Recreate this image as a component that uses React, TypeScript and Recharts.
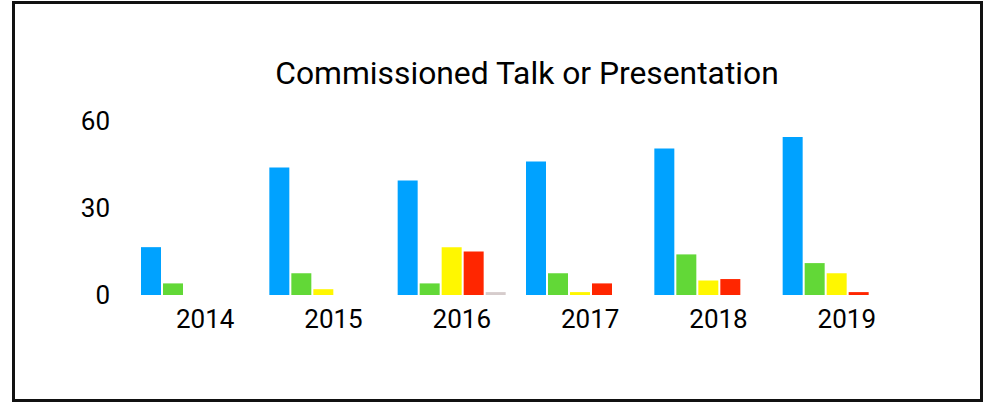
import React from "react";
import { BarChart, Bar, XAxis, YAxis } from "recharts";

const years = ["2014", "2015", "2016", "2017", "2018", "2019"];
const series1 = [16.5, 44, 39.5, 46, 50.5, 54.5];
const series2 = [4, 7.5, 4, 7.5, 14, 11];
const series3 = [0, 2, 16.5, 1, 5, 7.5];
const series4 = [0, 0, 15, 4, 5.5, 1];
const series5 = [0, 0, 1, 0, 0, 0];
const yTicks = [0, 30, 60];

const colors = ["#00a2ff", "#62d837", "#fff700", "#ff2600", "#d6cccc"];
const keys = ["s1", "s2", "s3", "s4", "s5"];

const FONT = "Roboto, 'Noto Sans', sans-serif";

export default function App() {
  const data = years.map((y, i) => ({
    year: y,
    s1: series1[i],
    s2: series2[i],
    s3: series3[i],
    s4: series4[i],
    s5: series5[i],
  }));

  return (
    <div style={{ position: "absolute", left: 0, top: 0, width: 990, height: 402, background: "#fff" }}>
      <div
        style={{
          position: "absolute",
          left: 12,
          top: 1,
          width: 971,
          height: 401,
          border: "3px solid #111",
          boxSizing: "border-box",
        }}
      />
      <svg style={{ position: "absolute", left: 0, top: 0 }} width={990} height={402}>
        <text x={527} y={84} textAnchor="middle" fontFamily={FONT} fontSize={31.8} fill="#000">
          Commissioned Talk or Presentation
        </text>
      </svg>
      <div style={{ position: "absolute", left: 0, top: 0 }}>
        <BarChart
          width={990}
          height={402}
          data={data}
          margin={{ top: 121, right: 89, bottom: 77, left: 0 }}
          barCategoryGap={10}
          barGap={2}
        >
          <XAxis
            dataKey="year"
            axisLine={false}
            tickLine={false}
            height={30}
            tickMargin={9}
            tick={{ fontFamily: FONT, fontSize: 26, fill: "#000", dx: 10 }}
            interval={0}
          />
          <YAxis
            domain={[0, 60]}
            ticks={yTicks}
            axisLine={false}
            tickLine={false}
            width={131}
            tickMargin={15}
            tick={{ fontFamily: FONT, fontSize: 26, fill: "#000" }}
            interval={0}
          />
          {keys.map((k, i) => (
            <Bar key={k} dataKey={k} fill={colors[i]} isAnimationActive={false} />
          ))}
        </BarChart>
      </div>
    </div>
  );
}
